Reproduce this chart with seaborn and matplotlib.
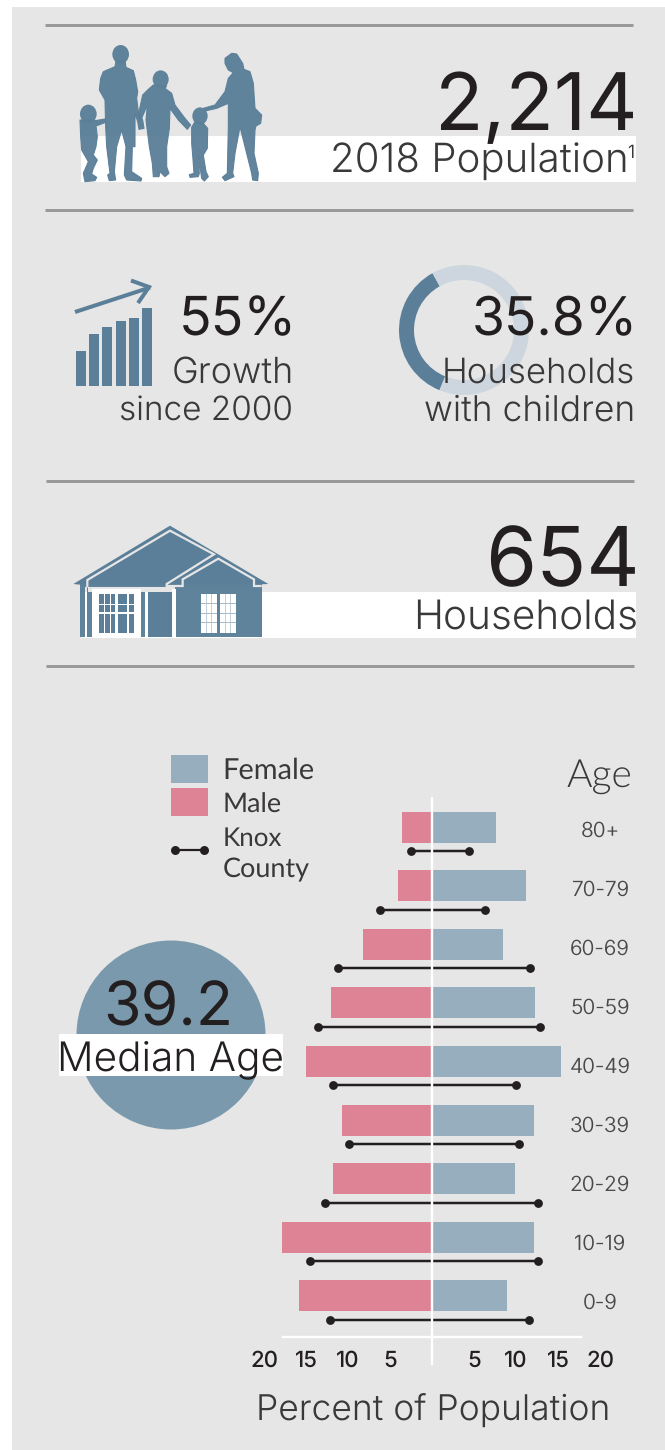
import matplotlib
matplotlib.use('Agg')
import matplotlib.pyplot as plt
from matplotlib.patches import Rectangle, Polygon, Ellipse, Circle
from matplotlib.textpath import TextPath
from matplotlib.font_manager import FontProperties
import seaborn as sns
import numpy as np

# ---- data ----
age_groups = ['80+', '70-79', '60-69', '50-59', '40-49', '30-39', '20-29', '10-19', '0-9']
male_pct = [3.6, 4.0, 8.2, 12.0, 15.0, 10.7, 11.8, 17.9, 15.8]
female_pct = [7.6, 11.2, 8.5, 12.3, 15.4, 12.1, 9.9, 12.1, 8.9]
knox_male_pct = [2.5, 6.2, 11.2, 13.6, 11.8, 9.9, 12.7, 14.5, 12.1]
knox_female_pct = [4.4, 6.3, 11.7, 12.9, 10.0, 10.4, 12.6, 12.6, 11.5]
xtick_values = [-20, -15, -10, -5, 5, 10, 15, 20]
children_share = [35.8, 64.2]
growth_icon_heights = [35, 52, 59, 65, 68, 78]

sns.set_theme(style='white')
plt.rcParams['font.family'] = ['Inter', 'DejaVu Sans']
plt.rcParams['text.hinting'] = 'none'
plt.rcParams['text.hinting_factor'] = 1

W, H = 665, 1450
PANEL = '#E6E6E6'
RULE = '#999999'
BLUE = '#5B7F99'
DARK = '#231F20'
TXT = '#3A3839'
FEMALE = '#97AEBE'
MALE = '#DE8396'
DONUT_LIGHT = '#CDD6DE'
CIRCLE = '#7A99AD'

fig = plt.figure(figsize=(W / 100, H / 100), dpi=100, facecolor='white')


def box(left, top, right, bottom):
    return [left / W, 1 - bottom / H, (right - left) / W, (bottom - top) / H]


def px_axes(zorder):
    a = fig.add_axes([0, 0, 1, 1], zorder=zorder)
    a.set_xlim(0, W)
    a.set_ylim(H, 0)
    a.axis('off')
    a.patch.set_alpha(0)
    return a


bg = px_axes(0)
top = px_axes(5)
P = 0.72  # points per pixel at 100 dpi


def rect(a, x0, y0, x1, y1, color, **kw):
    a.add_patch(Rectangle((x0, y0), x1 - x0, y1 - y0, facecolor=color, edgecolor='none', **kw))


rect(bg, 12, 7, W, H, PANEL)
for y, x0, x1 in [(24.5, 45, 633), (209.5, 45, 633), (481, 46, 634), (665.5, 46, 634)]:
    bg.plot([x0, x1], [y, y], color=RULE, lw=3 * P, solid_capstyle='butt')
rect(bg, 80.5, 136, 636, 182, 'white')
rect(bg, 80.5, 592, 636, 638, 'white')


# ---- text helper: fits the ink of a text to a measured pixel span ----
def label(s, x0, x1, base, color=TXT, weight=300, family='Inter'):
    fp = FontProperties(family=family, weight=weight, size=20)
    ext = TextPath((0, 0), s, prop=fp).get_extents()
    size = 20 * (x1 - x0) * P / ext.width
    left = x0 - ext.x0 * (size / 20) / P
    return top.text(left, base, s, ha='left', va='baseline', color=color, fontweight=weight,
                    family=[family, 'DejaVu Sans'], fontsize=size)


# ---- family silhouette (icon) ----
def zx(x):
    return 70 + x / 3


def zy(y):
    return 40 + y / 3


def fam_poly(pts):
    bg.add_patch(Polygon([(zx(x), zy(y)) for x, y in pts], closed=True, facecolor=BLUE, edgecolor=BLUE,
                         lw=0.8, joinstyle='round', alpha=0.96))


def fam_head(x, y, rx, ry):
    bg.add_patch(Ellipse((zx(x), zy(y)), 2 * rx / 3, 2 * ry / 3, facecolor=BLUE, edgecolor='none', alpha=0.96))


fam_head(152, 43, 25, 28)
fam_poly([(138, 62), (165, 62), (168, 82), (190, 92), (197, 120), (203, 155), (200, 175), (205, 215), (218, 240),
          (222, 265), (207, 268), (203, 245), (195, 220), (195, 320), (187, 320), (185, 395), (215, 415), (213, 423),
          (170, 420), (163, 405), (168, 320), (155, 270), (140, 320), (133, 395), (137, 420), (118, 422), (113, 405),
          (120, 400), (110, 320), (107, 260), (105, 180), (88, 150), (92, 115), (100, 95), (135, 80)])
fam_head(272, 118, 24, 27)
fam_poly([(250, 135), (290, 138), (285, 145), (305, 160), (315, 195), (345, 235), (362, 255), (352, 268), (325, 240),
          (300, 205), (298, 265), (290, 320), (290, 380), (297, 400), (285, 410), (270, 395), (267, 410), (250, 410),
          (247, 370), (238, 320), (228, 240), (232, 195), (215, 235), (208, 245), (205, 225), (218, 165), (235, 148)])
fam_head(390, 228, 23, 26)
fam_poly([(375, 245), (400, 250), (413, 265), (412, 325), (400, 345), (408, 395), (415, 410), (403, 423), (395, 415),
          (385, 345), (388, 400), (385, 410), (360, 412), (358, 404), (372, 400), (368, 345), (365, 310), (365, 262)])
fam_poly([(465, 55), (485, 40), (500, 42), (518, 70), (522, 88), (540, 95), (550, 130), (555, 205), (575, 225),
          (572, 250), (558, 258), (555, 270), (552, 340), (565, 400), (563, 422), (548, 420), (545, 400), (510, 260),
          (495, 340), (488, 400), (492, 410), (465, 422), (457, 412), (472, 400), (475, 260), (475, 190), (440, 205),
          (405, 213), (400, 205), (435, 195), (465, 155), (475, 115), (490, 98), (475, 90), (465, 70)])
fam_head(55, 222, 25, 28)
fam_poly([(35, 240), (70, 240), (75, 242), (105, 237), (107, 247), (78, 258), (82, 290), (78, 320), (70, 345),
          (82, 360), (70, 385), (65, 402), (80, 412), (75, 422), (45, 425), (40, 400), (55, 365), (35, 330), (32, 290),
          (30, 240)])

# ---- growth icon ----
axg = fig.add_axes(box(76 - 1.5, 300, 152 + 1.5, 386), zorder=1)
sns.barplot(x=list(range(len(growth_icon_heights))), y=growth_icon_heights, color=BLUE, saturation=1,
            width=10 / 13, linewidth=0, ax=axg)
axg.set_ylim(0, 86)
axg.set_xlim(-0.5, 5.5)
axg.axis('off')
axg.patch.set_alpha(0)
bg.plot([75, 150], [312, 287.5], color=BLUE, lw=4 * P, solid_capstyle='butt')
bg.plot([131, 149, 138], [280.5, 287, 303], color=BLUE, lw=4 * P, solid_joinstyle='miter', solid_capstyle='butt')

# ---- donut ----
axd = fig.add_axes(box(399, 265, 529, 395), zorder=1)
axd.pie(children_share, colors=[BLUE, DONUT_LIGHT], startangle=119, counterclock=True, radius=1,
        wedgeprops=dict(width=15 / 65, linewidth=0))
axd.set_xlim(-1, 1)
axd.set_ylim(-1, 1)
axd.patch.set_alpha(0)

# ---- house icon ----
def hx(x):
    return 40 + x / 3


def hy(y):
    return 510 + y / 3


def hrect(x0, y0, x1, y1, color, **kw):
    rect(bg, hx(x0), hy(y0), hx(x1), hy(y1), color, **kw)


bg.add_patch(Polygon([(hx(x), hy(y)) for x, y in [(100, 222), (390, 47), (685, 222), (640, 224), (120, 224)]],
                     closed=True, facecolor=BLUE, edgecolor='none'))
hrect(120, 222, 665, 382, BLUE, alpha=0.97)
bg.plot([hx(x) for x in (142, 142, 390, 522, 380, 380, 428, 428, 535, 642, 642, 665)],
        [hy(y) for y in (232, 210, 62, 133, 222, 228, 228, 208, 146, 208, 228, 228)],
        color=PANEL, lw=2.2 * P, solid_joinstyle='miter', solid_capstyle='butt')
hrect(135, 232, 142, 382, PANEL)
hrect(135, 245, 142, 382, 'white')
hrect(145, 232, 405, 245, PANEL)
hrect(157, 238, 303, 382, 'white')
hrect(177, 253, 282, 368, BLUE)
for v0, v1 in [(191, 194), (209, 212), (225, 234), (261, 267)]:
    hrect(v0, 253, v1, 368, 'white')
for h0, h1 in [(281, 284), (307, 311)]:
    hrect(177, h0, 282, h1, 'white')
hrect(315, 238, 324, 382, 'white')
hrect(315, 238, 405, 246, PANEL)
hrect(397, 238, 407, 382, 'white')
hrect(324, 246, 397, 382, BLUE)
for wx0, wx1 in [(483, 530), (540, 587)]:
    hrect(wx0, 253, wx1, 368, 'white')
    for k in (1 / 3, 2 / 3):
        hrect(wx0 + (wx1 - wx0) * k - 1, 253, wx0 + (wx1 - wx0) * k + 1, 368, '#C3D1DC')
    for yy in (279, 308, 337):
        hrect(wx0, yy, wx1, yy + 3, '#A8BCCB')

# ---- median-age circle ----
bg.add_patch(Circle((171, 1035), 94.5, facecolor=CIRCLE, edgecolor='none'))
rect(bg, 59, 1034, 283, 1076, 'white')

# ---- population pyramid ----
CX, PXU, Y0, DY = 432, 8.4, 827, 58.6
L, R, T, B = 240, 624, 797, 1337
ax = fig.add_axes(box(L, T, R, B), zorder=2)
sns.barplot(x=[-v for v in male_pct], y=age_groups, color=MALE, saturation=1, width=31 / DY, linewidth=0, ax=ax,
            orient='h')
sns.barplot(x=female_pct, y=age_groups, color=FEMALE, saturation=1, width=31 / DY, linewidth=0, ax=ax, orient='h')
ax.set_xlim((L - CX) / PXU, (R - CX) / PXU)
ax.set_ylim((B - Y0) / DY, (T - Y0) / DY)
ypos = np.arange(len(age_groups)) + 24 / DY
ax.hlines(ypos, [-v for v in knox_male_pct], knox_female_pct, color=DARK, lw=2.5 * P)
ax.plot([-v for v in knox_male_pct], ypos, 'o', color=DARK, ms=8.8 * P, mew=0)
ax.plot(knox_female_pct, ypos, 'o', color=DARK, ms=8.8 * P, mew=0)
ax.plot([0, 0], [(T - Y0) / DY, (1365 - Y0) / DY], color='white', lw=2.4 * P, clip_on=False, solid_capstyle='butt')
ax.patch.set_alpha(0)
sns.despine(ax=ax, left=True, top=True, right=True, bottom=False)
ax.spines['bottom'].set_color('white')
ax.spines['bottom'].set_linewidth(2.4 * P)
ax.spines['bottom'].set_bounds(-149 / PXU, 149 / PXU)
ax.set_yticks([])
ax.set_ylabel('')
ax.set_xlabel('')
ax.set_xticks(xtick_values)
ax.set_xticklabels([str(abs(v)) for v in xtick_values], fontsize=16, color=DARK, fontweight=500,
                   family=['Inter', 'DejaVu Sans'])
ax.tick_params(axis='x', length=0, pad=10)

for i, g in enumerate(age_groups):
    top.text(600, 831 + 59.1 * i, g, ha='center', va='center', color='#4A4849', fontsize=15, fontweight=300,
             family=['Inter', 'DejaVu Sans'])

# ---- legend ----
rect(bg, 171, 755, 208, 783, FEMALE)
rect(bg, 171, 788, 208, 816, MALE)
bg.plot([175, 204], [850, 850], color=DARK, lw=2.2 * P)
bg.plot([175, 204], [850, 850], 'o', color=DARK, ms=9 * P, mew=0)
label('Female', 225, 312, 779, family='Lato', weight=400)
label('Male', 225, 281.5, 813, family='Lato', weight=400)
label('Knox', 225, 282, 846, family='Lato', weight=400)
label('County', 224, 308, 877, family='Lato', weight=400)
label('Age', 567, 630, 787, family='Lato', weight=300)

# ---- headline text ----
label('2,214', 440, 633, 130, color=DARK, weight=400)
label('2018 Population', 333, 625, 172)
top.text(627, 158, '1', ha='left', va='baseline', color=TXT, fontsize=13, fontweight=300,
         family=['Inter', 'DejaVu Sans'])
label('55%', 183, 291, 335, color=DARK, weight=400)
label('Growth', 174, 291, 383)
label('since 2000', 121, 291, 421)
label('35.8%', 475, 632, 335, color=DARK, weight=400)
label('Households', 445, 633, 383)
label('with children', 425, 632, 421)
label('654', 490, 635, 586, color=DARK, weight=400)
label('Households', 417, 636, 629)
label('39.2', 107, 229, 1024, color=DARK, weight=400)
label('Median Age', 61, 282, 1070, color=DARK)
label('Percent of Population', 259, 607, 1421)

fig.savefig('out.png', dpi=100, facecolor='white')
